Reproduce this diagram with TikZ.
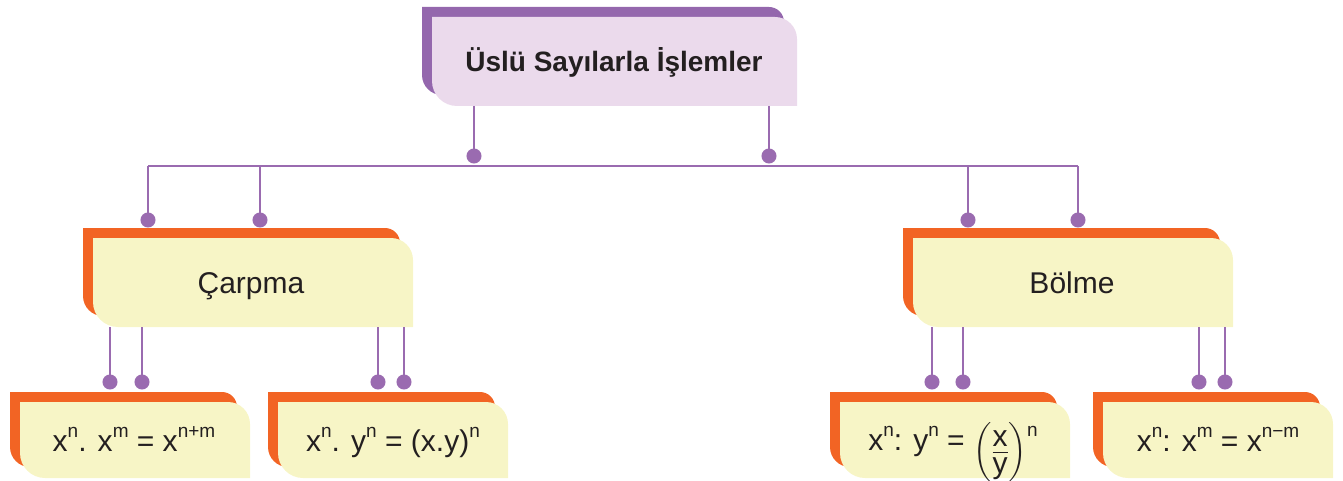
\documentclass[tikz,border=0pt]{standalone}
\usepackage{amsmath}
\usepackage{graphicx}
\usepackage{fontspec}
\setmainfont{Liberation Sans}
\usetikzlibrary{arrows.meta}
\definecolor{linepurple}{HTML}{9A6BB0}
\definecolor{titleback}{HTML}{9467AD}
\definecolor{titlefront}{HTML}{EBDAEC}
\definecolor{boxorange}{HTML}{F26424}
\definecolor{boxyellow}{HTML}{F7F5C6}
\definecolor{textdark}{HTML}{231F20}
% rectangle with rounded top-right and bottom-left corners: x1,y1,x2,y2,rTR,rBL
\newcommand\tabshape[7]{%
  \fill[#1] (#2,#3) -- ({#4-#6},#3)
    .. controls ({#4-0.448*#6},#3) and (#4,{#3+0.448*#6}) .. (#4,{#3+#6})
    -- (#4,#5) -- ({#2+#7},#5)
    .. controls ({#2+0.448*#7},#5) and (#2,{#5-0.448*#7}) .. (#2,{#5-#7})
    -- cycle;}
% back + front box: back colour, front colour, front x1,y1,x2,y2
\newcommand\dblbox[6]{%
  \tabshape{#1}{#3-10}{#4-10}{#5-13}{#6-11}{15}{20}%
  \tabshape{#2}{#3}{#4}{#5}{#6}{22}{25}}
\newcommand\upx[1]{\raisebox{0.45em}{\fontsize{19}{19}\selectfont #1}}
\newcommand\fracxy{\raisebox{-8.5pt}{$\left(\genfrac{}{}{1.1pt}{}{\mbox{\rule[-4pt]{0pt}{4pt}x}}{\mbox{\rule{0pt}{20pt}y}}\right)$}}
\tikzset{
  conn/.style={draw=linepurple, line width=2.6pt},
  dotted end/.style={conn, -{Circle[length=15pt, width=15pt, fill=linepurple]}},
  ttl/.style={anchor=base, text=textdark, font=\fontsize{28}{34}\selectfont\bfseries, inner sep=0pt},
  mid/.style={anchor=base, text=textdark, font=\fontsize{30}{36}\selectfont, inner sep=0pt},
  leaf/.style={anchor=base, text=textdark, font=\fontsize{30}{36}\selectfont, inner sep=0pt}
}
\begin{document}
\begin{tikzpicture}[x=1pt,y=-1pt]
\useasboundingbox (0,0) rectangle (1343,481);
% boxes
\dblbox{titleback}{titlefront}{432}{17}{797}{106}
\dblbox{boxorange}{boxyellow}{93}{238}{413}{327}
\dblbox{boxorange}{boxyellow}{913}{238}{1233}{327}
\dblbox{boxorange}{boxyellow}{20}{402}{250}{478}
\dblbox{boxorange}{boxyellow}{278}{402}{508}{478}
\dblbox{boxorange}{boxyellow}{840}{402}{1070}{478}
\dblbox{boxorange}{boxyellow}{1103}{402}{1333}{478}
% texts
\node[ttl] (title) at (614,72) {Üslü Sayılarla İşlemler};
\node[mid] (carpma) at (251,293) {Çarpma};
\node[mid] (bolme) at (1072,293) {Bölme};
\node[leaf] (f1) at (134,451) {x\upx{n}. x\upx{m} = x\upx{n+m}};
\node[leaf] (f2) at (393,451) {x\upx{n}. y\upx{n} = (x.y)\upx{n}};
\node[leaf] (f3) at (953,450) {x\upx{n}: y\upx{n} = \fracxy\upx{n}};
\node[leaf] (f4) at (1218,451) {x\upx{n}: x\upx{m} = x\upx{n−m}};
% connector coordinates
\coordinate (ts1) at (474,106);  \coordinate (td1) at (474,163.5);
\coordinate (ts2) at (769,106);  \coordinate (td2) at (769,163.5);
\coordinate (hl) at (148,166);   \coordinate (hr) at (1078,166);
\coordinate (hm1) at (260,166);  \coordinate (hm2) at (968,166);
\coordinate (cd1) at (148,227.5); \coordinate (cd2) at (260,227.5);
\coordinate (bd1) at (968,227.5); \coordinate (bd2) at (1078,227.5);
\coordinate (cs1) at (110,327); \coordinate (cs2) at (142,327);
\coordinate (cs3) at (378,327); \coordinate (cs4) at (404,327);
\coordinate (bs1) at (932,327); \coordinate (bs2) at (963,327);
\coordinate (bs3) at (1199,327); \coordinate (bs4) at (1225,327);
\foreach \n/\x in {l1/110,l2/142,l3/378,l4/404,r1/932,r2/963,r3/1199,r4/1225}
  \coordinate (e\n) at (\x,389.5);
% connectors
\draw[dotted end] (ts1) -- (td1);
\draw[dotted end] (ts2) -- (td2);
\draw[conn] (hl) -- (hr);
\draw[dotted end] (hl) -- (cd1);
\draw[dotted end] (hm1) -- (cd2);
\draw[dotted end] (hm2) -- (bd1);
\draw[dotted end] (hr) -- (bd2);
\draw[dotted end] (cs1) -- (el1);
\draw[dotted end] (cs2) -- (el2);
\draw[dotted end] (cs3) -- (el3);
\draw[dotted end] (cs4) -- (el4);
\draw[dotted end] (bs1) -- (er1);
\draw[dotted end] (bs2) -- (er2);
\draw[dotted end] (bs3) -- (er3);
\draw[dotted end] (bs4) -- (er4);
\end{tikzpicture}
\end{document}
